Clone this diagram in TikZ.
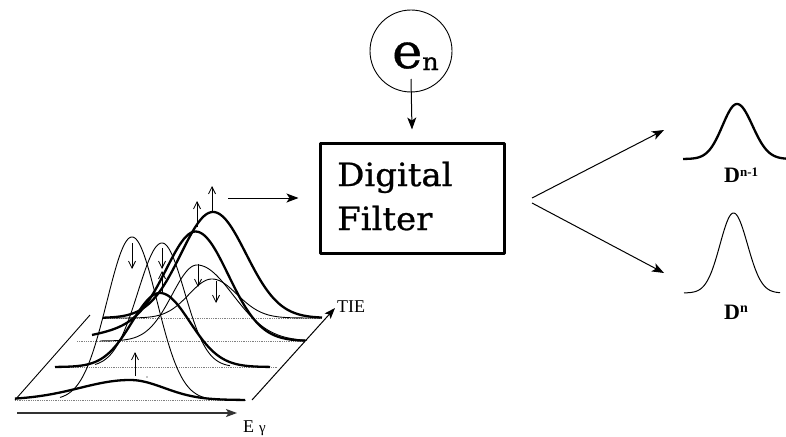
\documentclass[tikz,border=0pt]{standalone}
\usepackage{fontspec}
\setmainfont{Liberation Serif}
\newfontfamily\schfont{DejaVu Serif}[FakeStretch=1.06,FakeBold=0.8]
\usetikzlibrary{arrows.meta}

% asymmetric bell: bell(x, centre, height, left width, right width)
\pgfmathdeclarefunction{bell}{5}{%
  \begingroup
    \pgfmathparse{(#1<#2) ? #4 : #5}\let\bellw\pgfmathresult
    \pgfmathparse{(#1-#2)/\bellw}\let\bellt\pgfmathresult
    \pgfmathparse{#3*exp(-0.5*min(\bellt*\bellt,40))}%
    \pgfmathsmuggle\pgfmathresult
  \endgroup}

\tikzset{
  thinpk/.style={line width=0.9pt},
  thickpk/.style={line width=2.3pt},
  gridln/.style={densely dotted, gray, line width=0.8pt},
  marker/.style={line width=0.8pt, -{Straight Barb[length=7pt,width=7pt]}},
  mainarr/.style={line width=1pt, -{Stealth[length=12pt,width=9pt,inset=3pt]}},
  axisarr/.style={line width=1pt, -{Stealth[length=11pt,width=8pt,inset=2.5pt]}},
  boxtext/.style={anchor=base west, inner sep=0, font=\schfont\fontsize{32}{32}\selectfont},
  dlabel/.style={anchor=base west, inner sep=0, font=\bfseries\fontsize{22}{22}\selectfont},
  axlabel/.style={anchor=base west, inner sep=0, font=\fontsize{18}{18}\selectfont},
}

\begin{document}
\begin{tikzpicture}[x=1pt, y=-1pt, line join=round]
\useasboundingbox (0,0) rectangle (786,436);

% ---- energy / TIE plane ----
\draw[gridln] (15,400) -- (247,400);
\draw[gridln] (55,367) -- (277,367);
\draw[gridln] (77,341) -- (305,341);
\draw[gridln] (103,318) -- (322,318);

\coordinate (pl0) at (15,400);
\coordinate (pl1) at (90,315);
\draw[line width=0.9pt] (pl0) -- (pl1);
\coordinate (tie0) at (252,400);
\coordinate (tie1) at (335,308);
\draw[axisarr] (tie0) -- (tie1);
\node[axlabel] (tielbl) at (337,312) {TIE};
\coordinate (e0) at (17,413);
\coordinate (e1) at (237,413);
\draw[axisarr, line width=1.3pt, black!80] (e0) -- (e1);
\node[axlabel] (elbl) at (243,432) {E\hspace{5pt}{\fontsize{15}{15}\selectfont γ}};

% ---- thick spectra ----
\draw[thickpk] plot[domain=15:245, samples=120] (\x,{400-bell(\x,130,20,50,34)});
\draw[thickpk] plot[domain=55:270, samples=140] (\x,{367-bell(\x,160,74,28,30)});
\draw[thickpk] plot[domain=92:305, samples=140] (\x,{341-bell(\x,197,105,30,32)-bell(\x,140,12,40,40)});
\draw[thickpk] plot[domain=103:322, samples=140] (\x,{318-bell(\x,213,106,32,33)});

% ---- thin spectra ----
\draw[thinpk] plot[domain=60:205, samples=140] (\x,{400-bell(\x,132,163,25,25)});
\draw[thinpk] plot[domain=95:230, samples=140] (\x,{367-bell(\x,162,124,24,22.5)});
\draw[thinpk] plot[domain=100:307, samples=140] (\x,{341-bell(\x,197,76,25,36)});
\draw[thinpk] plot[domain=110:320, samples=140] (\x,{318-bell(\x,212,39,23,25)});

% ---- shift markers ----
\draw[marker] (132,243) -- (132,269);
\draw[marker] (162,248) -- (162,269);
\draw[marker] (162,292) -- (162,271);
\draw[marker] (198,264) -- (198,287);
\draw[marker] (216,281) -- (216,303);
\draw[marker] (197,227) -- (197,201);
\draw[marker] (212,211) -- (212,186);
\draw[marker] (135,376) -- (135,352);
\fill (147,377) circle (0.7pt);

% ---- filter block ----
\node[circle, draw, line width=0.9pt, minimum size=82pt, inner sep=0] (en) at (411,51) {};
\node[anchor=base west, inner sep=0, font=\schfont\fontsize{48}{48}\selectfont] (enlbl) at (392,68)
  {e\raisebox{-2pt}{\fontsize{24}{24}\selectfont n}};
\node[draw, line width=3pt, minimum width=184pt, minimum height=110pt, inner sep=0] (filt) at (412,198) {};
\node[boxtext] (fl1) at (337,186) {Digital};
\node[boxtext] (fl2) at (337,230) {Filter};

\coordinate (pkout) at (228,198);
\draw[mainarr] (pkout) -- ([xshift=-20pt]filt.west);
\draw[mainarr] ([yshift=-28pt]en.center) -- ([yshift=12pt]filt.north);

\coordinate (forkup) at (532,198);
\coordinate (forklo) at (532,203);
\coordinate (tipup) at (664,130);
\coordinate (tiplo) at (664,273);
\draw[mainarr] (forkup) -- (tipup);
\draw[mainarr] (forklo) -- (tiplo);

% ---- filtered outputs ----
\draw[thickpk] plot[domain=683:786, samples=120] (\x,{159-bell(\x,737,55,14.5,15.5)});
\draw[line width=1pt] plot[domain=684:780, samples=120] (\x,{293-bell(\x,733.5,80,13.5,14)});
\node[dlabel] (dprev) at (724,182) {D\raisebox{6pt}{\fontsize{13}{13}\selectfont n-1}};
\node[dlabel] (dcur) at (724,319) {D\raisebox{7pt}{\fontsize{14}{14}\selectfont n}};
\end{tikzpicture}
\end{document}
